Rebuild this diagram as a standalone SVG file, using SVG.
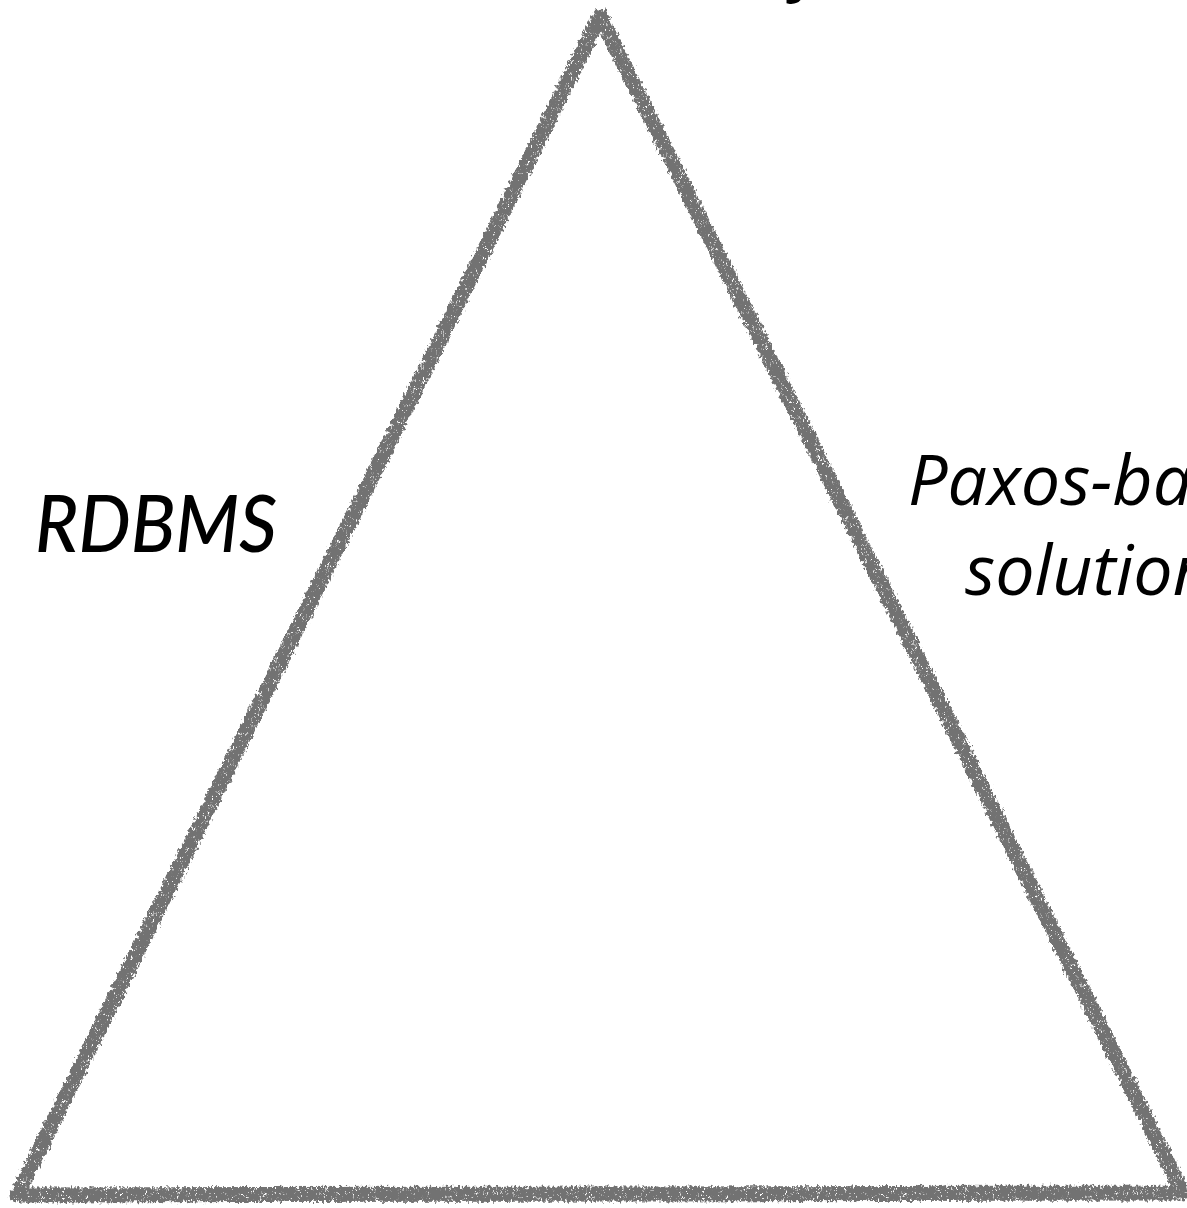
<svg xmlns="http://www.w3.org/2000/svg" width="1187" height="1208" viewBox="0 0 1187 1208">
  <style>
    .label { font-family: "Open Sans", "Noto Sans", "Liberation Sans", sans-serif; font-style: italic; font-weight: 500; fill: #000; }
    .gill { font-family: Lato, "Open Sans", "Liberation Sans", sans-serif; font-style: italic; font-weight: 500; fill: #000; }
    .edge { fill: none; stroke: #727272; stroke-width: 15; stroke-linejoin: round; stroke-linecap: round; }
  </style>
  <defs>
    <!-- rough chalk texture for the triangle outline -->
    <filter id="chalk" x="-3%" y="-3%" width="106%" height="106%">
      <feTurbulence type="fractalNoise" baseFrequency="0.4 0.25" numOctaves="2" seed="7" result="noise"/>
      <feColorMatrix in="noise" type="matrix" values="0 0 0 0 0  0 0 0 0 0  0 0 0 0 0  6 0 0 0 -1.4" result="mask"/>
      <feComposite in="SourceGraphic" in2="mask" operator="in" result="grain"/>
      <feDisplacementMap in="grain" in2="noise" scale="8" xChannelSelector="R" yChannelSelector="G"/>
    </filter>
  </defs>
  <rect width="1187" height="1208" fill="#ffffff"/>

  <g id="connectors">
    <path class="edge" filter="url(#chalk)" d="M600,16 L17,1195 L1183,1193 Z"/>
  </g>

  <g id="top-label">
    <text class="label" x="645" y="-13" font-size="70" text-anchor="middle">Consistency</text>
  </g>
  <g id="left-label">
    <text class="gill" x="35" y="552" font-size="79" textLength="242" lengthAdjust="spacingAndGlyphs">RDBMS</text>
  </g>
  <g id="right-label">
    <text class="label" x="908" y="505" font-size="70">Paxos-based</text>
    <text class="label" x="965" y="595" font-size="70">solutions</text>
  </g>
</svg>
